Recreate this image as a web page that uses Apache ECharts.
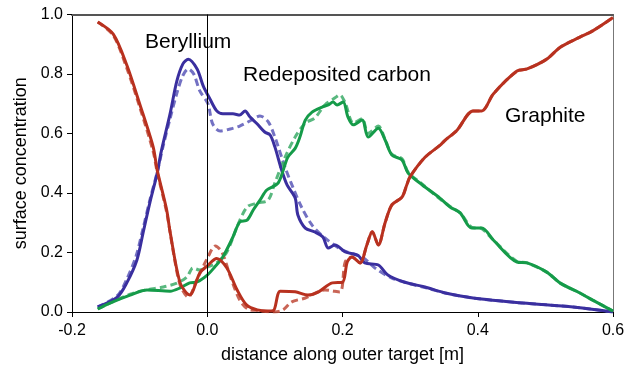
<!DOCTYPE html>
<html>
<head>
<meta charset="utf-8">
<script src="https://cdn.jsdelivr.net/npm/echarts@6/dist/echarts.min.js"></script>
<style>html,body{margin:0;padding:0;background:#fff}#c{width:639px;height:371px}</style>
</head>
<body>
<div id="c"></div>
<script>
const xTicks = [-0.2, 0.0, 0.2, 0.4, 0.6];
const yTicks = [0.0, 0.2, 0.4, 0.6, 0.8, 1.0];
const labels = ['Beryllium', 'Redeposited carbon', 'Graphite'];

const berylliumSolid = [[-0.162,0.017],[-0.133,0.05],[-0.119,0.098],[-0.104,0.175],[-0.095,0.265],[-0.085,0.366],[-0.074,0.467],[-0.068,0.54],[-0.055,0.666],[-0.045,0.776],[-0.036,0.834],[-0.028,0.85],[-0.015,0.817],[-0.006,0.76],[0.004,0.716],[0.014,0.676],[0.023,0.666],[0.038,0.666],[0.048,0.662],[0.056,0.676],[0.063,0.656],[0.074,0.632],[0.085,0.605],[0.093,0.595],[0.10,0.555],[0.11,0.477],[0.118,0.427],[0.13,0.383],[0.134,0.326],[0.145,0.282],[0.159,0.269],[0.171,0.252],[0.179,0.215],[0.189,0.225],[0.204,0.202],[0.223,0.19],[0.233,0.165],[0.253,0.158],[0.267,0.124],[0.292,0.10],[0.322,0.084],[0.352,0.064],[0.393,0.047],[0.467,0.03],[0.541,0.017],[0.6,0.0]];
const berylliumDashed = [[-0.162,0.017],[-0.133,0.055],[-0.119,0.11],[-0.105,0.19],[-0.095,0.28],[-0.085,0.375],[-0.074,0.47],[-0.065,0.56],[-0.055,0.65],[-0.045,0.735],[-0.036,0.795],[-0.028,0.817],[-0.02,0.80],[-0.011,0.743],[0.001,0.70],[0.008,0.632],[0.019,0.608],[0.034,0.615],[0.048,0.625],[0.063,0.642],[0.078,0.659],[0.09,0.64],[0.10,0.588],[0.115,0.487],[0.127,0.417],[0.14,0.35],[0.155,0.292],[0.174,0.249],[0.2,0.208],[0.229,0.185],[0.248,0.148],[0.273,0.114],[0.3,0.095],[0.322,0.082],[0.352,0.064],[0.393,0.047],[0.467,0.03],[0.541,0.017],[0.6,0.0]];

const carbonSolid = [[-0.162,0.01],[-0.144,0.03],[-0.114,0.057],[-0.089,0.074],[-0.055,0.07],[-0.04,0.081],[-0.026,0.098],[-0.015,0.101],[0.0,0.124],[0.011,0.151],[0.023,0.185],[0.038,0.252],[0.048,0.302],[0.059,0.309],[0.068,0.343],[0.078,0.376],[0.088,0.41],[0.105,0.434],[0.119,0.52],[0.13,0.55],[0.137,0.588],[0.145,0.645],[0.155,0.672],[0.17,0.689],[0.179,0.696],[0.186,0.706],[0.192,0.696],[0.201,0.706],[0.208,0.656],[0.216,0.629],[0.229,0.645],[0.238,0.588],[0.253,0.618],[0.263,0.578],[0.273,0.528],[0.288,0.511],[0.297,0.467],[0.318,0.427],[0.344,0.383],[0.359,0.353],[0.374,0.333],[0.391,0.282],[0.406,0.282],[0.423,0.242],[0.458,0.168],[0.473,0.165],[0.502,0.134],[0.522,0.097],[0.551,0.064],[0.57,0.04],[0.6,0.003]];
const carbonDashed = [[-0.162,0.01],[-0.144,0.03],[-0.114,0.06],[-0.089,0.075],[-0.065,0.084],[-0.045,0.097],[-0.03,0.118],[-0.021,0.148],[-0.011,0.141],[0.0,0.151],[0.014,0.165],[0.029,0.202],[0.044,0.286],[0.059,0.353],[0.074,0.366],[0.09,0.376],[0.1,0.434],[0.115,0.52],[0.13,0.588],[0.145,0.635],[0.159,0.652],[0.174,0.696],[0.189,0.72],[0.196,0.73],[0.204,0.703],[0.216,0.635],[0.229,0.65],[0.238,0.6],[0.253,0.625],[0.263,0.58],[0.273,0.53],[0.288,0.515],[0.297,0.47],[0.318,0.43],[0.344,0.38],[0.359,0.355],[0.374,0.333],[0.391,0.285],[0.406,0.28],[0.423,0.242],[0.458,0.17],[0.473,0.165],[0.502,0.134],[0.522,0.097],[0.551,0.064],[0.57,0.04],[0.6,0.003]];

const graphiteSolid = [[-0.162,0.975],[-0.139,0.934],[-0.119,0.83],[-0.10,0.70],[-0.08,0.555],[-0.074,0.477],[-0.06,0.343],[-0.055,0.27],[-0.04,0.097],[-0.026,0.057],[-0.011,0.131],[0.0,0.155],[0.014,0.18],[0.029,0.148],[0.044,0.075],[0.058,0.024],[0.074,0.007],[0.09,0.003],[0.098,0.005],[0.108,0.07],[0.13,0.068],[0.149,0.057],[0.164,0.067],[0.185,0.098],[0.2,0.1],[0.207,0.168],[0.214,0.185],[0.226,0.165],[0.236,0.225],[0.244,0.27],[0.253,0.225],[0.263,0.30],[0.273,0.36],[0.288,0.386],[0.295,0.427],[0.3,0.455],[0.322,0.52],[0.344,0.56],[0.352,0.578],[0.369,0.61],[0.393,0.676],[0.406,0.676],[0.423,0.733],[0.458,0.81],[0.473,0.817],[0.502,0.85],[0.522,0.89],[0.551,0.924],[0.57,0.945],[0.6,0.99]];
const graphiteDashed = [[-0.162,0.975],[-0.139,0.93],[-0.119,0.82],[-0.10,0.69],[-0.08,0.54],[-0.074,0.47],[-0.06,0.335],[-0.05,0.2],[-0.04,0.09],[-0.028,0.05],[-0.015,0.11],[0.0,0.18],[0.012,0.222],[0.022,0.2],[0.034,0.12],[0.048,0.04],[0.06,0.01],[0.075,0.005],[0.1,0.0],[0.112,0.007],[0.125,0.034],[0.145,0.047],[0.174,0.074],[0.196,0.067],[0.204,0.168],[0.214,0.185],[0.226,0.165],[0.236,0.225],[0.244,0.27],[0.253,0.225],[0.263,0.30],[0.273,0.36],[0.288,0.386],[0.295,0.427],[0.3,0.455],[0.322,0.52],[0.344,0.56],[0.352,0.578],[0.369,0.61],[0.393,0.676],[0.406,0.676],[0.423,0.733],[0.458,0.81],[0.473,0.817],[0.502,0.85],[0.522,0.89],[0.551,0.924],[0.57,0.945],[0.6,0.99]];

const FONT = 'Liberation Sans, Arial, sans-serif';
const chart = echarts.init(document.getElementById('c'), null, {renderer: 'canvas'});

function line(name, data, color, dashed, z) {
  return {
    name, type: 'line', data, smooth: 0.3, symbol: 'none', z,
    lineStyle: {color, width: 3, type: dashed ? [7, 4] : 'solid', opacity: dashed ? 0.85 : 1},
    silent: true
  };
}

const series = [
  line('Be dashed', berylliumDashed, '#5a58b8', true, 2),
  line('C dashed', carbonDashed, '#3cac68', true, 2),
  line('G dashed', graphiteDashed, '#c04a38', true, 2),
  line('Be', berylliumSolid, '#3a2f9f', false, 3),
  line('C', carbonSolid, '#159b49', false, 3),
  line('G', graphiteSolid, '#b8311f', false, 3)
];
series[3].markLine = {
  silent: true, symbol: 'none', animation: false,
  lineStyle: {color: '#000', width: 1, type: 'solid'},
  label: {show: false},
  data: [{xAxis: 0}]
};

chart.setOption({
  animation: false,
  grid: {left: 72, right: 26, top: 14.5, bottom: 59},
  xAxis: [{
    type: 'value', min: xTicks[0], max: xTicks[xTicks.length - 1], interval: 0.2,
    name: 'distance along outer target [m]', nameLocation: 'middle', nameGap: 34,
    nameTextStyle: {fontFamily: FONT, fontSize: 18, color: '#000'},
    axisLine: {show: true, onZero: false, lineStyle: {color: '#000', width: 1}},
    axisTick: {show: true, length: 5, inside: false, lineStyle: {color: '#000'}},
    axisLabel: {fontFamily: FONT, fontSize: 16, color: '#000', margin: 11,
      formatter: v => v.toFixed(1)},
    splitLine: {show: false}
  }, {
    type: 'value', position: 'top', min: xTicks[0], max: xTicks[xTicks.length - 1],
    axisLine: {show: true, onZero: false, lineStyle: {color: '#555', width: 2}},
    axisTick: {show: false}, axisLabel: {show: false}, splitLine: {show: false}
  }],
  yAxis: [{
    type: 'value', min: yTicks[0], max: yTicks[yTicks.length - 1], interval: 0.2,
    name: 'surface concentration', nameLocation: 'middle', nameGap: 42,
    nameTextStyle: {fontFamily: FONT, fontSize: 18, color: '#000'},
    axisLine: {show: true, onZero: false, lineStyle: {color: '#000', width: 1}},
    axisTick: {show: true, length: 5, inside: false, lineStyle: {color: '#000'}},
    axisLabel: {fontFamily: FONT, fontSize: 16, color: '#000', margin: 9,
      formatter: v => v.toFixed(1)},
    splitLine: {show: false}
  }, {
    type: 'value', position: 'right', min: 0, max: 1,
    axisLine: {show: true, onZero: false, lineStyle: {color: '#777', width: 1}},
    axisTick: {show: false}, axisLabel: {show: false}, splitLine: {show: false}
  }],
  graphic: [
    {type: 'text', left: 145, top: 32, z: 10, style: {text: labels[0], font: '21px ' + FONT, fill: '#000'}},
    {type: 'text', left: 243, top: 65, z: 10, style: {text: labels[1], font: '21px ' + FONT, fill: '#000'}},
    {type: 'text', left: 505, top: 106, z: 10, style: {text: labels[2], font: '21px ' + FONT, fill: '#000'}}
  ],
  series
});
</script>
</body>
</html>
